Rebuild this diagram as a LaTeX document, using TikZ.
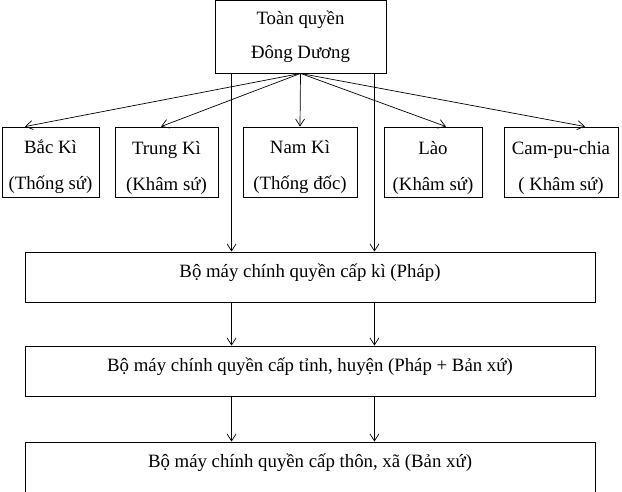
\documentclass[tikz,border=0pt]{standalone}
\usepackage{fontspec}
\setmainfont{Liberation Serif}
\usetikzlibrary{positioning}
\usetikzlibrary{arrows.meta}
\newcommand{\caodong}{\rule{0pt}{24pt}}
\tikzset{hop/.style={draw,line width=0.9pt,inner sep=0pt,align=center,font=\fontsize{18.8}{36}\selectfont}}
\tikzset{xu/.style={hop,minimum width=#1,minimum height=70pt}}
\tikzset{hoplon/.style={draw,line width=0.9pt,inner sep=0pt,minimum width=570pt,text height=25pt,text depth=#1,font=\fontsize{18.8}{22}\selectfont},hoplon/.default=25pt}
\tikzset{muiten/.style={-{Straight Barb[length=7pt,width=9pt]},line width=0.7pt}}

\begin{document}
\begin{tikzpicture}[x=1pt,y=-1pt]
	\useasboundingbox (0,0) rectangle (622,491);

	% Toàn quyền
	\node[hop,minimum width=171pt,minimum height=73pt,font=\fontsize{18.8}{34}\selectfont] (TQ) at (300.5,36.5) {Toàn quyền\\Đông Dương};

	% Năm xứ
	\node[xu=97pt] (BK) at (50.5,162) {\caodong Bắc Kì\\(Thống sứ)};
	\node[xu=103pt] (TK) at (166.5,162) {\caodong Trung Kì\\(Khâm sứ)};
	\node[xu=114pt] (NK) at (300,162) {\caodong Nam Kì\\(Thống đốc)};
	\node[xu=98pt] (LAO) at (433,162) {\caodong Lào\\(Khâm sứ)};
	\node[xu=114pt] (CPC) at (561,162) {\caodong Cam-pu-chia\\( Khâm sứ)};

	% Các cấp chính quyền
	\node[hoplon,anchor=base] (KI) at (310,277) {Bộ máy chính quyền cấp kì (Pháp)};
	\node[hoplon,anchor=base] (TINH) at (310,371) {Bộ máy chính quyền cấp tỉnh, huyện (Pháp + Bản xứ)};
	\node[hoplon=40pt,anchor=base] (THON) at (310,467) {Bộ máy chính quyền cấp thôn, xã (Bản xứ)};

	% Mũi tên xuống năm xứ
	\draw[muiten] (TQ.south) -- ([xshift=-25.5pt]BK.north);
	\draw[muiten] (TQ.south) -- ([xshift=-5.5pt]TK.north);
	\draw[muiten] (TQ.south) -- (NK.north);
	\draw[muiten] (TQ.south) -- ([xshift=13pt]LAO.north);
	\draw[muiten] (TQ.south) -- ([xshift=24pt]CPC.north);

	% Hai đường thẳng đứng
	\draw[muiten] ([xshift=17pt]TQ.south west) coordinate (d1) -- (d1 |- KI.north);
	\draw[muiten] ([xshift=-12pt]TQ.south east) coordinate (d2) -- (d2 |- KI.north);
	\draw[muiten] (d1 |- KI.south) -- (d1 |- TINH.north);
	\draw[muiten] (d2 |- KI.south) -- (d2 |- TINH.north);
	\draw[muiten] (d1 |- TINH.south) -- (d1 |- THON.north);
	\draw[muiten] (d2 |- TINH.south) -- (d2 |- THON.north);

\end{tikzpicture}
\end{document}
